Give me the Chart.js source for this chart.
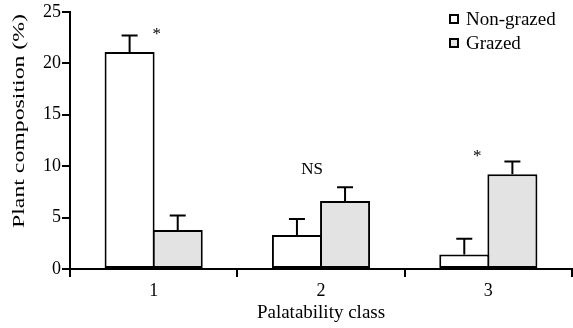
<!DOCTYPE html>
<html>
<head>
<meta charset="utf-8">
<script src="https://cdn.jsdelivr.net/npm/chart.js@4"></script>
<style>
  html, body { margin: 0; padding: 0; background: #fff; }
  #wrap { width: 573px; height: 328px; }
</style>
</head>
<body>
<div id="wrap"><canvas id="myChart"></canvas></div>
<script>
var classes = ['1', '2', '3'];
var nonGrazed = [21.1, 3.3, 1.4];
var nonGrazedErr = [1.6, 1.55, 1.55];
var grazed = [3.8, 6.6, 9.2];
var grazedErr = [1.4, 1.35, 1.25];
var signif = ['*', 'NS', '*'];
var signifAt = [23.1, 9.7, 11.2]; // height (in % units) where the mark sits
var yTicks = [0, 5, 10, 15, 20, 25];
var yTitle = 'Plant composition (%)';

var serif = '"Liberation Serif", "Times New Roman", serif';

// error bars (upward only), significance marks, legend and y title
var extras = {
  id: 'extras',
  afterDatasetsDraw(chart) {
    var ctx = chart.ctx;
    var y = chart.scales.y;
    var errs = [nonGrazedErr, grazedErr];
    ctx.save();
    ctx.strokeStyle = '#000';
    ctx.lineWidth = 2;
    chart.data.datasets.forEach((ds, i) => {
      chart.getDatasetMeta(i).data.forEach((bar, j) => {
        var top = y.getPixelForValue(ds.data[j] + errs[i][j]);
        ctx.beginPath();
        ctx.moveTo(bar.x, bar.y);
        ctx.lineTo(bar.x, top);
        ctx.moveTo(bar.x - 8, top);
        ctx.lineTo(bar.x + 8, top);
        ctx.stroke();
      });
    });

    // significance labels
    var xs = chart.scales.x;
    var shift = [3, -9, -11];
    ctx.fillStyle = '#000';
    ctx.textAlign = 'center';
    ctx.textBaseline = 'middle';
    signif.forEach((s, k) => {
      ctx.font = (s == '*' ? '17px ' : '17px ') + serif;
      var py = y.getPixelForValue(signifAt[k]) + (s == '*' ? 3 : 0);
      ctx.fillText(s, xs.getPixelForValue(k) + shift[k], py);
    });

    // legend
    ctx.textAlign = 'left';
    ctx.font = '19px ' + serif;
    chart.data.datasets.forEach((ds, i) => {
      var ly = 19 + i * 24;
      ctx.fillStyle = ds.backgroundColor;
      ctx.fillRect(450, ly - 4, 8, 8);
      ctx.lineWidth = 2;
      ctx.strokeStyle = '#000';
      ctx.strokeRect(450, ly - 4, 8, 8);
      ctx.fillStyle = '#000';
      ctx.fillText(ds.label, 466, ly + 1);
    });

    // y axis title (stretched along its length like the original)
    ctx.font = '17px ' + serif;
    ctx.textAlign = 'center';
    var k = 214 / ctx.measureText(yTitle).width;
    ctx.translate(20, 121);
    ctx.rotate(-Math.PI / 2);
    ctx.scale(k, 1);
    ctx.fillText(yTitle, 0, 0);
    ctx.restore();
  }
};

new Chart(document.getElementById('myChart'), {
  type: 'bar',
  data: {
    labels: classes,
    datasets: [{
      label: 'Non-grazed',
      data: nonGrazed,
      backgroundColor: '#ffffff',
      borderColor: '#000',
      borderWidth: 2,
      borderSkipped: false
    },
    {
      label: 'Grazed',
      data: grazed,
      backgroundColor: '#e3e3e3',
      borderColor: '#000',
      borderWidth: 2,
      borderSkipped: false
    }]
  },
  options: {
    responsive: true,
    maintainAspectRatio: false,
    animation: false,
    layout: { padding: { top: 9, right: 1 } },
    datasets: { bar: { categoryPercentage: 0.575, barPercentage: 1.04 } },
    plugins: { legend: { display: false }, tooltip: { enabled: false } },
    scales: {
      x: {
        offset: true,
        grid: { offset: true, drawOnChartArea: false, tickLength: 8, color: '#000', lineWidth: 2 },
        border: { color: '#000', width: 2 },
        ticks: { color: '#000', font: { family: serif, size: 18 }, padding: 3 },
        title: { display: true, text: 'Palatability class', color: '#000', font: { family: serif, size: 19 }, padding: { top: 4 } },
        afterFit: s => { s.height = 59; }
      },
      y: {
        min: 0,
        max: 25,
        afterBuildTicks: s => { s.ticks = yTicks.map(v => ({ value: v })); },
        grid: { drawOnChartArea: false, tickLength: 8, color: '#000', lineWidth: 2 },
        border: { color: '#000', width: 2 },
        ticks: { color: '#000', font: { family: serif, size: 18 }, padding: 1 },
        afterFit: s => { s.width = 70; }
      }
    }
  },
  plugins: [extras]
});
</script>
</body>
</html>
